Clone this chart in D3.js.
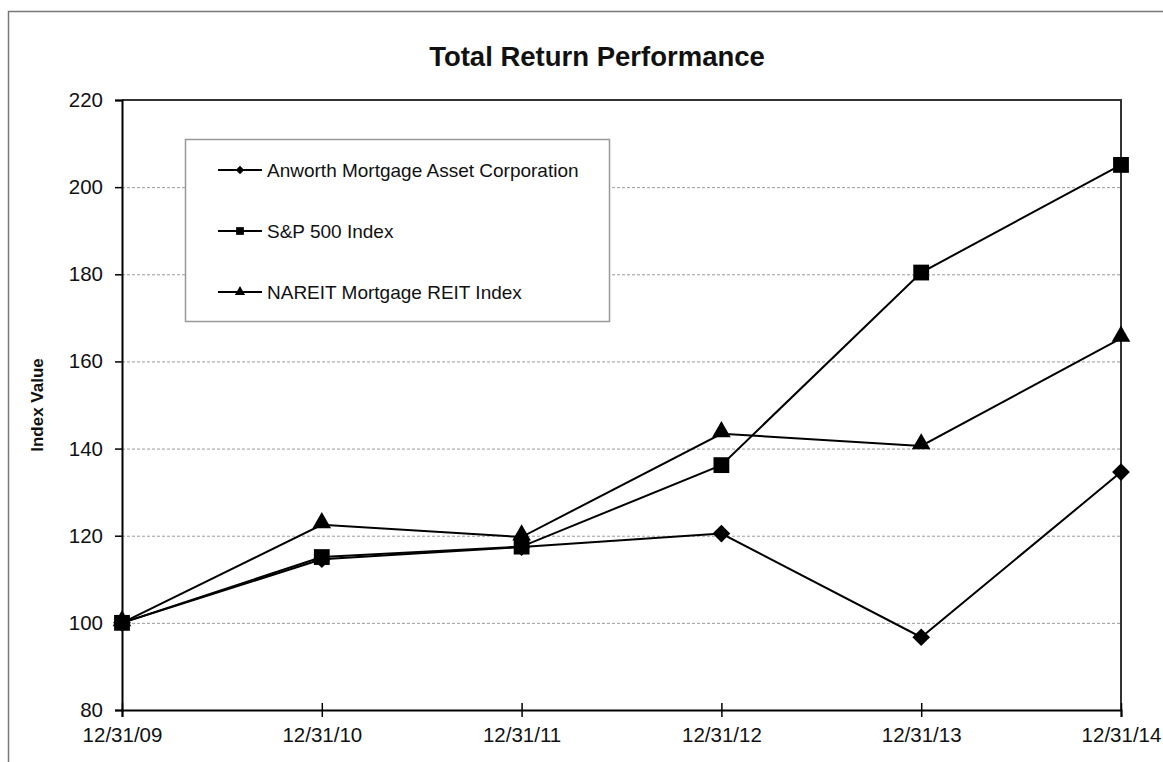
<!DOCTYPE html>
<html lang="en">
<head>
<meta charset="utf-8">
<title>Total Return Performance</title>
<script src="https://d3js.org/d3.v7.min.js"></script>
<style>
  body { margin: 0; background: #fff; }
  text { font-family: "Liberation Sans", Arial, sans-serif; fill: #111; }
</style>
</head>
<body>
<script>
// data
var dates = ["12/31/09", "12/31/10", "12/31/11", "12/31/12", "12/31/13", "12/31/14"];
var anworth = [100, 114.6, 117.4, 120.5, 96.7, 134.6];
var sp500 = [100, 115.1, 117.5, 136.2, 180.4, 205.1];
var nareit = [100, 122.5, 119.7, 143.4, 140.6, 165.3];
var yTicks = [80, 100, 120, 140, 160, 180, 200, 220];

var series = [
  { name: "Anworth Mortgage Asset Corporation", values: anworth, shape: d3.symbolDiamond2 },
  { name: "S&P 500 Index", values: sp500, shape: d3.symbolSquare },
  { name: "NAREIT Mortgage REIT Index", values: nareit, shape: d3.symbolTriangle }
];

var width = 1163, height = 762;
var plotL = 122, plotR = 1121, plotT = 100, plotB = 710;

var svg = d3.select("body").append("svg")
    .attr("width", width)
    .attr("height", height);

// outer frame (runs off the right and bottom edge)
svg.append("rect")
    .attr("x", 8.5).attr("y", 11.5)
    .attr("width", 1200).attr("height", 800)
    .attr("fill", "none")
    .attr("stroke", "#777")
    .attr("stroke-width", 1.5);

var x = d3.scalePoint().domain(dates).range([plotL, plotR]);
var y = d3.scaleLinear().domain([80, 220]).range([plotB, plotT]);

// grid lines
svg.append("g").selectAll("line")
    .data(yTicks.filter(function(d) { return d > 80 && d < 220; }))
    .enter().append("line")
    .attr("x1", plotL).attr("x2", plotR)
    .attr("y1", function(d) { return y(d) + 0.5; })
    .attr("y2", function(d) { return y(d) + 0.5; })
    .attr("stroke", "#999")
    .attr("stroke-width", 1)
    .attr("stroke-dasharray", "3,2");

// top and right border of plot
svg.append("path")
    .attr("d", "M" + plotL + "," + plotT + "H" + plotR + "V" + plotB)
    .attr("fill", "none")
    .attr("stroke", "#333")
    .attr("stroke-width", 2);

// y axis
var yAxis = svg.append("g")
    .attr("transform", "translate(" + plotL + ",0)")
    .call(d3.axisLeft(y).tickValues(yTicks).tickSize(7).tickPadding(12));
yAxis.select(".domain").attr("stroke", "#000").attr("stroke-width", 2);
yAxis.selectAll(".tick line").attr("stroke", "#000").attr("stroke-width", 1.5);
yAxis.selectAll("text").attr("font-size", 20.5).attr("font-family", "Liberation Sans, Arial, sans-serif").attr("fill", "#111");

// x axis
var xAxis = svg.append("g")
    .attr("transform", "translate(0," + plotB + ")")
    .call(d3.axisBottom(x).tickSize(7).tickPadding(10));
xAxis.select(".domain").attr("stroke", "#000").attr("stroke-width", 2);
xAxis.selectAll(".tick line").attr("y1", -7).attr("stroke", "#000").attr("stroke-width", 1.5);
xAxis.selectAll("text").attr("font-size", 20.5).attr("font-family", "Liberation Sans, Arial, sans-serif").attr("fill", "#111");

// title
svg.append("text")
    .attr("x", 597).attr("y", 66)
    .attr("text-anchor", "middle")
    .attr("font-size", 27.5)
    .attr("font-weight", "bold")
    .text("Total Return Performance");

// y label
svg.append("text")
    .attr("transform", "translate(43,405) rotate(-90)")
    .attr("text-anchor", "middle")
    .attr("font-size", 17)
    .attr("font-weight", "bold")
    .text("Index Value");

// lines and markers
var line = d3.line()
    .x(function(d, i) { return x(dates[i]); })
    .y(function(d) { return y(d); });

series.forEach(function(s) {
  svg.append("path")
      .datum(s.values)
      .attr("d", line)
      .attr("fill", "none")
      .attr("stroke", "#000")
      .attr("stroke-width", 2);
});

series.forEach(function(s) {
  var size = s.shape === d3.symbolSquare ? 250 : (s.shape === d3.symbolTriangle ? 150 : 200);
  svg.append("g").selectAll("path")
      .data(s.values)
      .enter().append("path")
      .attr("transform", function(d, i) {
        var dy = s.shape === d3.symbolTriangle ? -2 : 0;
        return "translate(" + x(dates[i]) + "," + (y(d) + dy) + ")";
      })
      .attr("d", d3.symbol().type(s.shape).size(size))
      .attr("fill", "#000");
});

// legend
var legend = svg.append("g");
legend.append("rect")
    .attr("x", 185.5).attr("y", 139.5)
    .attr("width", 424).attr("height", 182)
    .attr("fill", "#fff")
    .attr("stroke", "#999")
    .attr("stroke-width", 1.5);

var rows = legend.selectAll(".row")
    .data(series)
    .enter().append("g")
    .attr("class", "row")
    .attr("transform", function(d, i) { return "translate(0," + (170 + i * 61) + ")"; });

rows.append("line")
    .attr("x1", 218).attr("x2", 262)
    .attr("stroke", "#000").attr("stroke-width", 2);

rows.append("path")
    .attr("transform", "translate(240,0)")
    .attr("d", function(d) {
      var size = d.shape === d3.symbolSquare ? 60 : 45;
      return d3.symbol().type(d.shape).size(size)();
    })
    .attr("fill", "#000");

rows.append("text")
    .attr("x", 267).attr("y", 7)
    .attr("font-size", 19)
    .text(function(d) { return d.name; });
</script>
</body>
</html>
